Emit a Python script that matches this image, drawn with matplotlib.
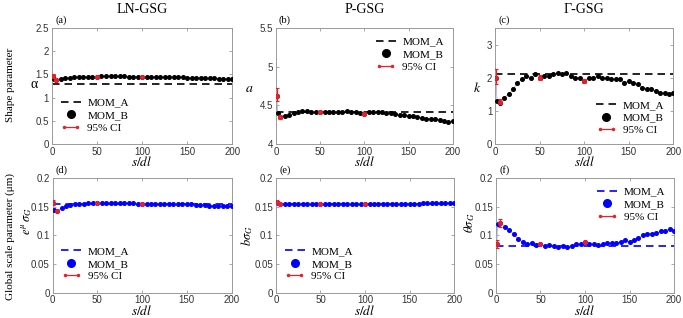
import matplotlib
matplotlib.use("Agg")
import matplotlib.pyplot as plt
from matplotlib.lines import Line2D
from matplotlib.legend_handler import HandlerLine2D
from matplotlib.ticker import FuncFormatter

plt.rcParams['mathtext.fontset'] = 'stix'
plt.rcParams['font.family'] = ['Liberation Sans', 'DejaVu Sans']

# eixo x comum
s_dl = [1, 2, 5, 10, 15, 20, 25, 30, 35, 40, 45, 50, 55, 60, 65, 70, 75, 80, 85, 90, 95, 100,
        105, 110, 115, 120, 125, 130, 135, 140, 145, 150, 155, 160, 165, 170, 175, 180, 185,
        190, 195, 200]
ci_x = [1, 5, 50, 100]

# (a) LN-GSG, alpha
mom_a_a = 1.30
mom_b_a = [1.46, 1.40, 1.38, 1.40, 1.42, 1.43, 1.44, 1.45, 1.45, 1.45, 1.45, 1.45,
           1.46, 1.46, 1.46, 1.46, 1.46, 1.46, 1.45, 1.45, 1.45, 1.45,
           1.45, 1.45, 1.45, 1.45, 1.44, 1.44, 1.44, 1.44, 1.44, 1.43, 1.43, 1.43, 1.43,
           1.42, 1.42, 1.42, 1.41, 1.41, 1.41, 1.41]
ci_y_a = [1.46, 1.38, 1.45, 1.45]
ci_lo_a = [1.42, 1.36, 1.44, 1.44]
ci_hi_a = [1.50, 1.40, 1.46, 1.46]

# (b) P-GSG, a
mom_a_b = 4.42
mom_b_b = [4.62, 4.40, 4.35, 4.36, 4.38, 4.40, 4.42, 4.43, 4.43, 4.42, 4.42, 4.41,
           4.42, 4.42, 4.42, 4.42, 4.42, 4.43, 4.41, 4.41, 4.40, 4.39,
           4.41, 4.41, 4.41, 4.41, 4.40, 4.40, 4.39, 4.37, 4.38, 4.36, 4.36, 4.35, 4.34,
           4.33, 4.32, 4.32, 4.31, 4.30, 4.29, 4.30]
ci_y_b = [4.62, 4.35, 4.41, 4.39]
ci_lo_b = [4.55, 4.33, 4.40, 4.38]
ci_hi_b = [4.72, 4.38, 4.42, 4.40]

# (c) Gamma-GSG, k
mom_a_c = 2.10
mom_b_c = [2.00, 1.30, 1.25, 1.40, 1.50, 1.65, 1.85, 1.95, 2.05, 2.00, 2.10, 2.00,
           2.05, 2.05, 2.10, 2.15, 2.10, 2.15, 2.05, 2.00, 2.00, 1.90,
           2.00, 2.00, 2.05, 2.00, 2.00, 1.95, 1.95, 1.95, 1.85, 1.90, 1.85, 1.80, 1.70,
           1.65, 1.65, 1.60, 1.55, 1.55, 1.50, 1.55]
ci_y_c = [2.00, 1.28, 2.00, 1.90]
ci_lo_c = [1.80, 1.20, 1.92, 1.85]
ci_hi_c = [2.25, 1.35, 2.08, 1.97]

# (d) LN-GSG, escala
mom_a_d = 0.155
mom_b_d = [0.157, 0.145, 0.143, 0.148, 0.151, 0.153, 0.154, 0.155, 0.155, 0.156, 0.156, 0.156,
           0.156, 0.156, 0.157, 0.157, 0.157, 0.157, 0.156, 0.156, 0.155, 0.155,
           0.155, 0.155, 0.155, 0.155, 0.155, 0.154, 0.154, 0.154, 0.154, 0.154, 0.154,
           0.153, 0.153, 0.153, 0.152, 0.152, 0.151, 0.151, 0.151, 0.151]
ci_y_d = [0.157, 0.143, 0.156, 0.155]
ci_lo_d = [0.153, 0.141, 0.155, 0.154]
ci_hi_d = [0.161, 0.145, 0.157, 0.156]

# (e) P-GSG, escala
mom_a_e = 0.154
mom_b_e = [0.158, 0.156, 0.154, 0.154, 0.154, 0.154, 0.154, 0.154, 0.154, 0.154, 0.154, 0.154,
           0.154, 0.154, 0.154, 0.154, 0.154, 0.154, 0.154, 0.154, 0.154, 0.154,
           0.154, 0.154, 0.154, 0.154, 0.154, 0.154, 0.154, 0.154, 0.155, 0.155, 0.155,
           0.155, 0.156, 0.156, 0.156, 0.156, 0.156, 0.156, 0.157, 0.157]
ci_y_e = [0.158, 0.154, 0.154, 0.154]
ci_lo_e = [0.156, 0.153, 0.153, 0.153]
ci_hi_e = [0.160, 0.155, 0.155, 0.155]

# (f) Gamma-GSG, escala
mom_a_f = 0.081
mom_b_f = [0.085, 0.120, 0.122, 0.115, 0.110, 0.102, 0.094, 0.088, 0.084, 0.086, 0.083, 0.085,
           0.082, 0.083, 0.082, 0.080, 0.081, 0.080, 0.082, 0.084, 0.085, 0.088,
           0.085, 0.085, 0.083, 0.085, 0.086, 0.087, 0.087, 0.088, 0.091, 0.089, 0.092,
           0.095, 0.100, 0.103, 0.103, 0.104, 0.107, 0.108, 0.111, 0.108]
ci_y_f = [0.085, 0.122, 0.085, 0.088]
ci_lo_f = [0.078, 0.115, 0.083, 0.086]
ci_hi_f = [0.092, 0.129, 0.087, 0.090]

paineis = [
    dict(pos=[0.076, 0.547, 0.264, 0.365], mom_a=mom_a_a, mom_b=mom_b_a, ci=(ci_y_a, ci_lo_a, ci_hi_a),
         cor='black', ylim=(0, 2.5), yticks=[0, 0.5, 1, 1.5, 2, 2.5], rotulo='(a)', titulo='LN-GSG',
         ylabel='α', ylab_xy=(-0.10, 0.51), rot=0, leg='lower left', leg_anchor=(0.0, 0.02)),
    dict(pos=[0.404, 0.547, 0.259, 0.365], mom_a=mom_a_b, mom_b=mom_b_b, ci=(ci_y_b, ci_lo_b, ci_hi_b),
         cor='black', ylim=(4, 5.5), yticks=[4, 4.5, 5, 5.5], rotulo='(b)', titulo='P-GSG',
         ylabel=r'$a$', ylab_xy=(-0.15, 0.48), rot=0, leg='upper right', leg_anchor=(1.0, 1.0)),
    dict(pos=[0.725, 0.547, 0.261, 0.365], mom_a=mom_a_c, mom_b=mom_b_c, ci=(ci_y_c, ci_lo_c, ci_hi_c),
         cor='black', ylim=(0, 3.5), yticks=[0, 1, 2, 3], rotulo='(c)', titulo='Γ-GSG',
         ylabel=r'$k$', ylab_xy=(-0.10, 0.48), rot=0, leg='lower right', leg_anchor=(1.0, 0.0)),
    dict(pos=[0.077, 0.08, 0.262, 0.36], mom_a=mom_a_d, mom_b=mom_b_d, ci=(ci_y_d, ci_lo_d, ci_hi_d),
         cor='#0000ff', ylim=(0, 0.2), yticks=[0, 0.05, 0.1, 0.15, 0.2], rotulo='(d)', titulo=None,
         ylabel=r'$e^{\mu}\,\sigma_G$', ylab_xy=(-0.145, 0.62), rot=90, leg='lower left', leg_anchor=(0.0, 0.02)),
    dict(pos=[0.404, 0.08, 0.261, 0.36], mom_a=mom_a_e, mom_b=mom_b_e, ci=(ci_y_e, ci_lo_e, ci_hi_e),
         cor='#0000ff', ylim=(0, 0.2), yticks=[0, 0.05, 0.1, 0.15, 0.2], rotulo='(e)', titulo=None,
         ylabel=r'$b\sigma_G$', ylab_xy=(-0.16, 0.50), rot=90, leg='lower left', leg_anchor=(0.0, 0.02)),
    dict(pos=[0.726, 0.08, 0.261, 0.36], mom_a=mom_a_f, mom_b=mom_b_f, ci=(ci_y_f, ci_lo_f, ci_hi_f),
         cor='#0000ff', ylim=(0, 0.2), yticks=[0, 0.05, 0.1, 0.15, 0.2], rotulo='(f)', titulo=None,
         ylabel=r'$\theta\sigma_G$', ylab_xy=(-0.145, 0.61), rot=90, leg='upper right', leg_anchor=(1.0, 1.0)),
]

fig = plt.figure(figsize=(6.83, 3.18), dpi=100)
serif = ['Liberation Serif', 'DejaVu Serif']
cinza = '#9a9a9a'

for p in paineis:
    ax = fig.add_axes(p['pos'])
    cor = p['cor']
    ax.axhline(p['mom_a'], color=cor, ls=(0, (4.5, 3)), lw=1.2, zorder=2)
    ax.plot(s_dl, p['mom_b'], color='#b0b0c8', lw=0.6, zorder=3)
    ax.plot(s_dl, p['mom_b'], ls='none', marker='o', ms=2.6, color=cor, zorder=4)
    cy, clo, chi = p['ci']
    erro = [[y - l for y, l in zip(cy, clo)], [h - y for y, h in zip(cy, chi)]]
    ax.errorbar(ci_x, cy, yerr=erro, fmt='o', ms=2.6, color='#e8202a', ecolor='#e8202a',
                elinewidth=0.9, capsize=1.5, capthick=0.8, zorder=5)

    ax.set_xlim(0, 200)
    ax.set_xticks([0, 50, 100, 150, 200])
    ax.set_ylim(*p['ylim'])
    ax.set_yticks(p['yticks'])
    ax.yaxis.set_major_formatter(FuncFormatter(lambda v, _: '%g' % v))
    ax.tick_params(direction='in', top=True, right=True, length=2.5, width=0.6,
                   color=cinza, labelsize=7, labelcolor='#333333', pad=2)
    for sp in ax.spines.values():
        sp.set_color(cinza)
        sp.set_linewidth(0.7)

    ax.set_xlabel(r'$s/dl$', fontsize=9.5, labelpad=-1)
    if p['rot'] == 0:
        ax.set_ylabel(p['ylabel'], fontsize=10, rotation=0, family=serif, va='center')
    else:
        ax.set_ylabel(p['ylabel'], fontsize=9, rotation=90, va='center')
    ax.yaxis.set_label_coords(*p['ylab_xy'])

    ax.text(0.05, 1.03, p['rotulo'], transform=ax.transAxes, ha='center', va='bottom',
            fontsize=7.5, family=serif)
    if p['titulo']:
        ax.set_title(p['titulo'], fontsize=10, family=serif, pad=11)

    h_a = Line2D([], [], color=cor, ls=(0, (4.5, 3)), lw=1.2)
    h_b = Line2D([], [], ls='none', marker='o', ms=5.5, color=cor)
    h_ci = Line2D([], [], color='#e8202a', lw=0.9, marker='.', ms=3)
    ax.legend([h_a, h_b, h_ci], ['MOM_A', 'MOM_B', '95% CI'], loc=p['leg'],
              bbox_to_anchor=p['leg_anchor'], frameon=False,
              prop={'family': serif, 'size': 8}, labelspacing=0.25,
              handlelength=1.8, handletextpad=0.6, borderpad=0.3,
              handler_map={h_ci: HandlerLine2D(numpoints=2)})

fig.text(0.015, 1 - 85 / 318, 'Shape parameter', rotation=90, ha='center', va='center',
         fontsize=8, family=serif)
fig.text(0.015, 1 - 237 / 318, 'Global scale parameter (μm)', rotation=90, ha='center',
         va='center', fontsize=8, family=serif)

fig.savefig('out.png', dpi=100)
